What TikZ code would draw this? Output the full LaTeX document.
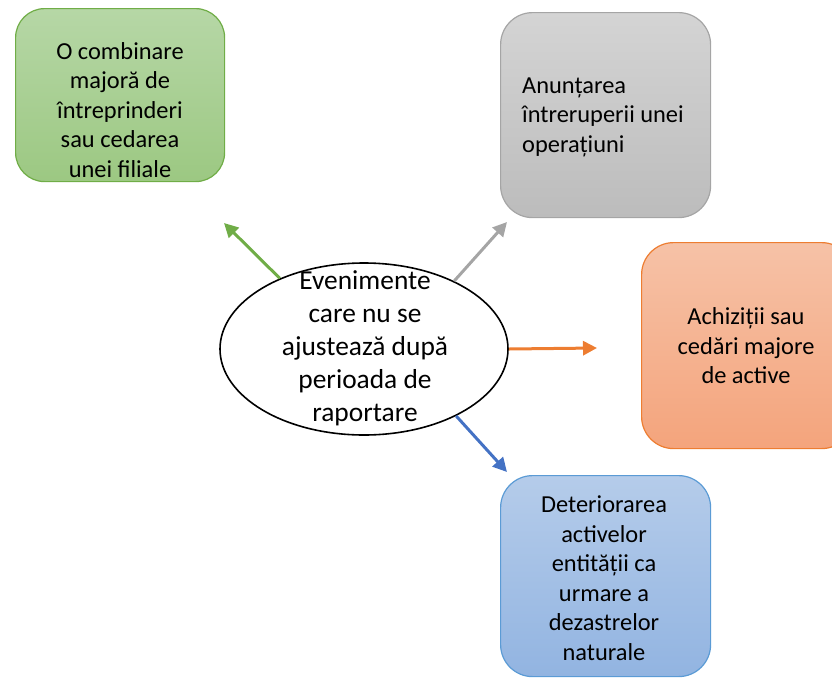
\documentclass[tikz,border=0pt]{standalone}
\usepackage{fontspec}
\setmainfont{Carlito}
\usetikzlibrary{arrows.meta,shapes.geometric}

% event colours
\definecolor{grnEdge}{HTML}{70AD47}
\definecolor{grnTop}{HTML}{B6D7A6}
\definecolor{grnBot}{HTML}{9CC882}
\definecolor{gryEdge}{HTML}{A5A5A5}
\definecolor{gryTop}{HTML}{D4D4D4}
\definecolor{gryBot}{HTML}{BCBCBC}
\definecolor{orgEdge}{HTML}{ED7D31}
\definecolor{orgTop}{HTML}{F6C2A7}
\definecolor{orgBot}{HTML}{F4A47C}
\definecolor{bluEdge}{HTML}{5B9BD5}
\definecolor{bluTop}{HTML}{B5CCEA}
\definecolor{bluBot}{HTML}{92B4E1}
\definecolor{bluArrow}{HTML}{4472C4}

\tikzset{
  eventbox/.style={rectangle, rounded corners=32pt, line width=1.2pt,
    anchor=north west, inner sep=0pt},
  boxtext/.style={font=\fontsize{24.4}{29.5}\selectfont, align=center,
    inner sep=0pt},
  link/.style={line width=3pt, -{Triangle[length=14pt,width=14pt]}},
}

\begin{document}
\begin{tikzpicture}[x=1pt,y=-1pt]
\useasboundingbox (0,0) rectangle (832,678);

% outcome boxes
\node[eventbox, draw=grnEdge, top color=grnTop, bottom color=grnBot,
  minimum width=209pt, minimum height=173pt, rounded corners=29pt]
  (fuziune) at (15,8) {};
\node[boxtext] (fuziuneT) at (120,110)
  {O combinare\\majoră de\\întreprinderi\\sau cedarea\\unei filiale};

\node[eventbox, draw=gryEdge, top color=gryTop, bottom color=gryBot,
  minimum width=210pt, minimum height=205pt]
  (intrerupere) at (500,12) {};
\node[boxtext, align=left, anchor=west] (intrerupereT) at (522,117)
  {Anunțarea\\întreruperii unei\\operațiuni};

\node[eventbox, draw=orgEdge, top color=orgTop, bottom color=orgBot,
  minimum width=212pt, minimum height=206pt]
  (achizitii) at (641,242) {};
\node[boxtext] (achizitiiT) at (746,346)
  {Achiziții sau\\cedări majore\\de active};

\node[eventbox, draw=bluEdge, top color=bluTop, bottom color=bluBot,
  minimum width=210pt, minimum height=201pt]
  (dezastre) at (500,475) {};
\node[boxtext] (dezastreT) at (604,578)
  {Deteriorarea\\activelor\\entității ca\\urmare a\\dezastrelor\\naturale};

% arrow tips
\coordinate (tipG) at (224,223);
\coordinate (tipY) at (507,222);
\coordinate (tipO) at (597,348);
\coordinate (tipB) at (507,472);

% central event
\node[ellipse, draw=black, line width=1.6pt, fill=white,
  minimum width=288pt, minimum height=172pt, inner sep=0pt]
  (ev) at (364,349) {};

\draw[link, draw=grnEdge, fill=grnEdge] (ev.140) -- (tipG);
\draw[link, draw=gryEdge, fill=gryEdge] (ev.37) -- (tipY);
\draw[link, draw=orgEdge, fill=orgEdge] (ev.0) -- (tipO);
\draw[link, draw=bluArrow, fill=bluArrow] (ev.-36) -- (tipB);

\node[font=\fontsize{27.4}{33}\selectfont, align=center, inner sep=0pt]
  (evT) at (365,348)
  {Evenimente\\care nu se\\ajustează după\\perioada de\\raportare};
\end{tikzpicture}
\end{document}
